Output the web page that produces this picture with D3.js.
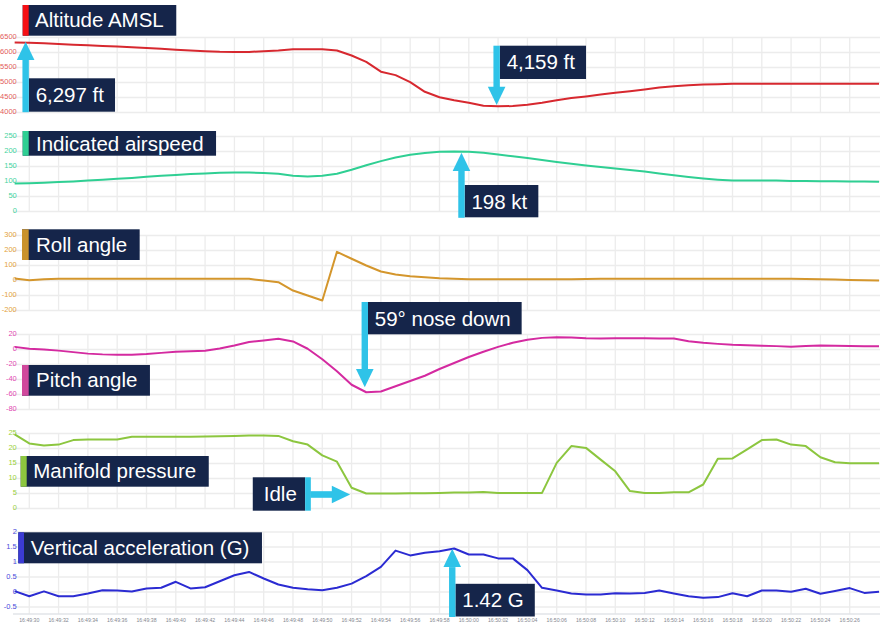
<!DOCTYPE html>
<html><head><meta charset="utf-8">
<script src="https://cdn.jsdelivr.net/npm/d3@7"></script>
<style>
body{margin:0;background:#fff;}
svg{display:block;font-family:"Liberation Sans",Arial,sans-serif;}
</style>
</head><body>
<svg id="chart" width="886" height="627"></svg>
<script>
// ---------------- DATA ----------------
const times = ["16:49:29","16:49:30","16:49:31","16:49:32","16:49:33","16:49:34","16:49:35","16:49:36","16:49:37","16:49:38",
"16:49:39","16:49:40","16:49:41","16:49:42","16:49:43","16:49:44","16:49:45","16:49:46","16:49:47","16:49:48",
"16:49:49","16:49:50","16:49:51","16:49:52","16:49:53","16:49:54","16:49:55","16:49:56","16:49:57","16:49:58",
"16:49:59","16:50:00","16:50:01","16:50:02","16:50:03","16:50:04","16:50:05","16:50:06","16:50:07","16:50:08",
"16:50:09","16:50:10","16:50:11","16:50:12","16:50:13","16:50:14","16:50:15","16:50:16","16:50:17","16:50:18",
"16:50:19","16:50:20","16:50:21","16:50:22","16:50:23","16:50:24","16:50:25","16:50:26","16:50:27","16:50:28"];

const tickLabels = ["16:49:30","16:49:32","16:49:34","16:49:36","16:49:38","16:49:40","16:49:42","16:49:44","16:49:46","16:49:48",
"16:49:50","16:49:52","16:49:54","16:49:56","16:49:58","16:50:00","16:50:02","16:50:04","16:50:06","16:50:08",
"16:50:10","16:50:12","16:50:14","16:50:16","16:50:18","16:50:20","16:50:22","16:50:24","16:50:26"];

const altitude = [6335,6322,6305,6285,6262,6240,6220,6198,6175,6152,
6125,6095,6065,6040,6022,6015,6020,6040,6065,6110,
6112,6105,6065,5900,5690,5360,5245,5010,4690,4510,
4410,4325,4225,4205,4215,4260,4325,4410,4480,4535,
4600,4655,4710,4765,4830,4875,4910,4930,4945,4955,
4955,4955,4955,4955,4955,4955,4955,4955,4955,4955];

const airspeed = [93,94,96,98,100,103,106,109,112,116,
119,122,125,127,129,130,130,128,126,119,
117,119,126,139,154,168,180,189,195,199,
200,199,196,190,184,178,172,165,159,153,
148,143,138,133,127,121,115,110,106,103,
103,103,103,102,102,101,101,100,100,99];

const roll = [13,2,9,11,11,11,11,11,11,11,
11,11,11,11,11,11,11,0,-11,-67,
-100,-133,191,145,100,60,40,29,22,15,
11,9,8,8,8,8,8,8,9,10,
11,12,12,12,12,12,12,12,12,12,
12,12,12,11,10,9,6,4,2,0];

const pitch = [3.5,1,0,-1.5,-3.5,-5.5,-6.5,-7,-7,-6,
-4.5,-3,-2.2,-1.8,1.3,5.3,10,12,14.2,10.7,
1,-13,-29,-47,-57,-56,-49,-42,-35,-26,
-18,-10,-3,3.5,9,13,15.5,16.4,16,15,
14.7,15,15,15,14.7,14.7,11,9,7.5,6.3,
5.8,5,4.5,3.8,4.8,5.3,5,4.6,4.5,4.5];

const manifold = [24.7,21.7,21,21.3,22.8,23,23,23,23.9,23.9,
23.9,23.9,23.9,24,24.1,24.2,24.3,24.3,24.2,22.4,
21.3,17.7,15.6,6.9,5,5,5,5.1,5.1,5.2,
5.3,5.3,5.5,5.2,5.2,5.2,5.2,15.2,20.8,20.2,
16.3,12.4,5.8,5.2,5.2,5.4,5.4,8,16.6,16.7,
19.7,22.8,23,21.3,20.8,17.1,15.4,15.1,15.1,15.1];

const vertAccel = [0.03,-0.14,0.02,-0.14,-0.14,-0.05,0.06,0.05,0.02,0.12,
0.14,0.34,0.12,0.16,0.36,0.56,0.67,0.45,0.25,0.14,
0.09,0.06,0.14,0.28,0.53,0.84,1.38,1.22,1.31,1.36,
1.45,1.25,1.25,1.12,1.12,0.73,0.14,0.05,-0.05,-0.08,
-0.08,-0.04,-0.05,-0.03,0.05,-0.05,-0.14,-0.19,-0.17,-0.04,
-0.14,0.05,0.05,0.01,0.11,-0.06,0.03,0.13,-0.03,0.01];

const panelTitles = ["Altitude AMSL","Indicated airspeed","Roll angle","Pitch angle","Manifold pressure","Vertical acceleration (G)"];
const seriesList = [altitude, airspeed, roll, pitch, manifold, vertAccel];
const yDomains = [[4000,6500],[0,250],[-200,300],[-80,20],[0,25],[-0.5,2]];
const yTicks = [[4000,4500,5000,5500,6000,6500],[0,50,100,150,200,250],[-200,-100,0,100,200,300],
                [-80,-60,-40,-20,0,20],[0,5,10,15,20,25],[-0.5,0,0.5,1,1.5,2]];

// annotations: text, panel, anchor time, anchor value
const annTexts = ["6,297 ft","4,159 ft","198 kt","59° nose down","Idle","1.42 G"];
const annPanels = [0,0,1,3,4,5];
const annTimes = ["16:49:29.75","16:50:01.9","16:49:59.5","16:49:52.9","16:49:51.9","16:49:58.87"];
const annValues = [6360,4250,196,-50.4,4.67,1.44];

// ---------------- STYLE / LAYOUT ----------------
const W = 886, H = 627;
const xLeft = 14.65, xRight = 879;
const panelTops = [37.5,136.5,235.5,334.5,433.5,532];
const panelH = 75;
const lineColors = ["#d7282f","#2fcf93","#d4962c","#d42aa0","#8cc63f","#2b2bd2"];
const labelColors = ["#e25c5c","#45d39e","#e3a23c","#df48b2","#9bd13c","#4a4adc"];
const barColors = ["#f50f14","#2fcf93","#c9922b","#d0489c","#8cc63f","#3b3bd4"];
const navy = "#15254a";
const cyan = "#2fc3e8";
const titleBoxes = [
  {x:22.7,y:5,h:30.7,tx:12.3,base:22.3,bw:6},
  {x:22.7,y:131,h:24.7,tx:13.3,base:19.7,bw:6},
  {x:22,y:229.3,h:30.7,tx:14,base:22.4,bw:6.7},
  {x:22,y:365,h:30.7,tx:14,base:22.3,bw:6.7},
  {x:20.7,y:456,h:30.7,tx:12.6,base:22.3,bw:6},
  {x:18.3,y:532.3,h:31,tx:12.4,base:22.7,bw:5.7}
];
// arrow geometry: dir, length (tip -> far end), box extent along axis [near, far]
const annGeom = [
  {dir:"up",len:70,near:36.6,far:70},
  {dir:"down",len:59.3,near:26,far:59.3},
  {dir:"up",len:64.6,near:32.3,far:64.6},
  {dir:"down",len:85.3,near:53,far:85.3},
  {dir:"right",len:45,near:-17.2,far:16.2},
  {dir:"up",len:67.7,near:35,far:67.7}
];
const titleFont = "20.5px";

// ---------------- DRAW ----------------
const toSec = s => { const p = s.split(":").map(Number); return p[0]*3600 + p[1]*60 + p[2]; };
const secs = times.map(toSec);
const x = d3.scaleLinear().domain([secs[0], secs[secs.length-1]]).range([xLeft, xRight]);
const svg = d3.select("#chart");
svg.append("rect").attr("width",W).attr("height",H).attr("fill","#fff");

const gridColor = "#ececec";
const yScales = [];

seriesList.forEach((vals, i) => {
  const top = panelTops[i];
  const y = d3.scaleLinear().domain(yDomains[i]).range([top + panelH, top]);
  yScales.push(y);
  const g = svg.append("g");
  g.selectAll("line.h").data(yTicks[i]).join("line")
    .attr("x1", 13).attr("x2", 880)
    .attr("y1", d => y(d)).attr("y2", d => y(d))
    .attr("stroke", gridColor).attr("stroke-width", 1.3);
  const bottom = i === seriesList.length - 1 ? 614 : top + panelH;
  g.selectAll("line.v").data(tickLabels).join("line")
    .attr("x1", d => x(toSec(d))).attr("x2", d => x(toSec(d)))
    .attr("y1", top).attr("y2", bottom)
    .attr("stroke", gridColor).attr("stroke-width", 1.3);
  g.selectAll("text.yl").data(yTicks[i]).join("text")
    .attr("x", 16.8).attr("y", d => y(d))
    .attr("text-anchor","end").attr("dominant-baseline","middle")
    .attr("font-size","7.5px").attr("fill", labelColors[i])
    .text(d => String(d));
  const line = d3.line().x((d, k) => x(secs[k])).y(d => y(d));
  g.append("path").datum(vals).attr("d", line)
    .attr("fill","none").attr("stroke", lineColors[i]).attr("stroke-width", 2)
    .attr("stroke-linejoin","round");
});

// x axis
svg.append("line").attr("x1",13).attr("x2",880).attr("y1",614).attr("y2",614)
  .attr("stroke","#e2e4e8").attr("stroke-width",1.3);
svg.selectAll("text.xl").data(tickLabels).join("text")
  .attr("x", d => x(toSec(d))).attr("y", 621)
  .attr("text-anchor","middle").attr("dominant-baseline","middle")
  .attr("font-size","5.2px").attr("fill","#84878f")
  .text(d => d);

// titles
panelTitles.forEach((t, i) => {
  const b = titleBoxes[i];
  const g = svg.append("g");
  const r = g.append("rect").attr("x", b.x).attr("y", b.y).attr("height", b.h).attr("fill", navy);
  g.append("rect").attr("x", b.x).attr("y", b.y).attr("width", b.bw).attr("height", b.h).attr("fill", barColors[i]);
  const tx = g.append("text").attr("x", b.x + b.tx).attr("y", b.y + b.base)
    .attr("font-size", titleFont).attr("fill","#fff").text(t);
  const w = tx.node().getComputedTextLength();
  r.attr("width", b.tx + w + 12.5);
});

// annotations
annTexts.forEach((t, i) => {
  const gm = annGeom[i];
  const tx = x(toSec(annTimes[i]));
  const ty = yScales[annPanels[i]](annValues[i]);
  const g = svg.append("g");
  const headL = 18.3, headW = 8.8, sw = 3.2;
  if (gm.dir === "up" || gm.dir === "down") {
    const s = gm.dir === "up" ? 1 : -1;
    const y0 = ty + s*gm.near, y1 = ty + s*gm.far;
    const box = g.append("rect").attr("x", tx + sw).attr("y", Math.min(y0,y1))
      .attr("height", Math.abs(y1-y0)).attr("fill", navy);
    const label = g.append("text").attr("x", tx + sw + 6.8).attr("y", Math.min(y0,y1) + 23.5)
      .attr("font-size", titleFont).attr("fill","#fff").text(t);
    box.attr("width", 6.8 + label.node().getComputedTextLength() + 11);
    const sy0 = ty + s*headL, sy1 = ty + s*gm.len;
    g.append("rect").attr("x", tx - sw).attr("width", 2*sw)
      .attr("y", Math.min(sy0,sy1)).attr("height", Math.abs(sy1-sy0)+0.5).attr("fill", cyan);
    g.append("path").attr("d", `M${tx},${ty} L${tx-headW},${ty+s*headL} L${tx+headW},${ty+s*headL} Z`).attr("fill", cyan);
  } else {
    const barX = tx - gm.len, barW = 5.7;
    const label = g.append("text").attr("font-size", titleFont).attr("fill","#fff").text(t);
    const w = label.node().getComputedTextLength();
    const bw = 11 + w + 8.3;
    g.insert("rect","text").attr("x", barX - bw).attr("y", ty + gm.near).attr("width", bw)
      .attr("height", gm.far - gm.near).attr("fill", navy);
    label.attr("x", barX - bw + 11).attr("y", ty + gm.near + 23.7);
    g.append("rect").attr("x", barX).attr("y", ty + gm.near).attr("width", barW)
      .attr("height", gm.far - gm.near).attr("fill", cyan);
    g.append("rect").attr("x", barX + barW - 0.5).attr("y", ty - 3.3).attr("width", gm.len - barW - headL + 1)
      .attr("height", 6.6).attr("fill", cyan);
    g.append("path").attr("d", `M${tx},${ty} L${tx-headL},${ty-headW} L${tx-headL},${ty+headW} Z`).attr("fill", cyan);
  }
});
</script>
</body></html>
